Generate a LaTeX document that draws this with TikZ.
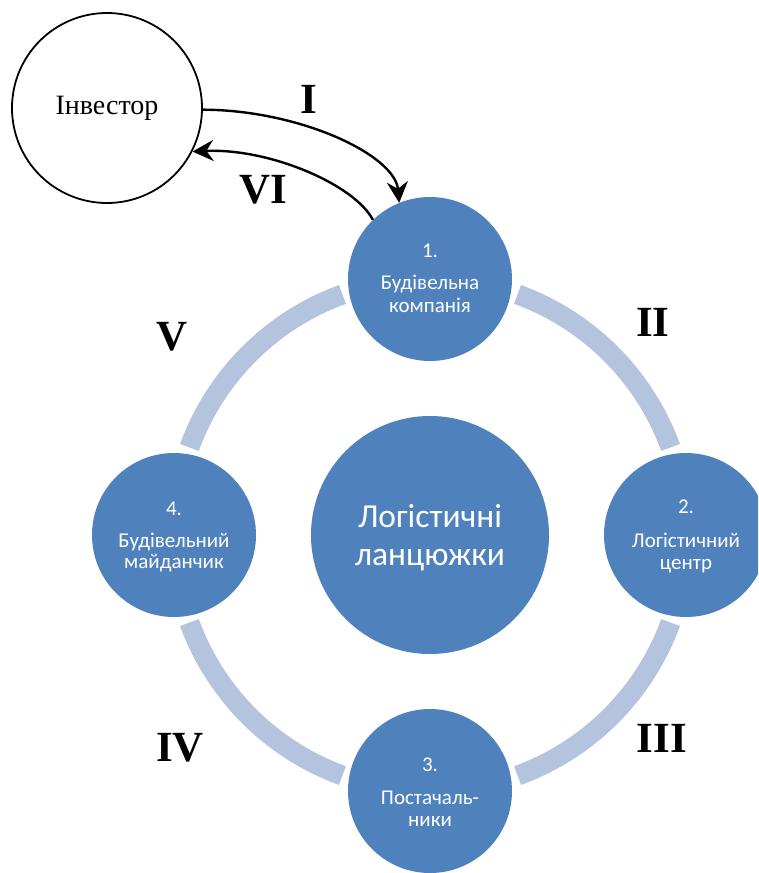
\documentclass[tikz,border=0pt]{standalone}
\usepackage{fontspec}
\setmainfont{Liberation Serif}
\newfontfamily\carlito{Carlito}
\usetikzlibrary{arrows.meta}

\definecolor{nodeblue}{RGB}{79,129,189}
\definecolor{ringblue}{RGB}{180,195,222}

\begin{document}
\begin{tikzpicture}[x=1pt,y=-1pt,
  stage/.style={circle, fill=nodeblue, minimum size=164pt, inner sep=0pt},
  hub/.style={circle, fill=nodeblue, minimum size=238pt, inner sep=0pt},
  ntext/.style={text=white, font=\carlito\fontsize{21}{24}\selectfont, anchor=base, inner sep=0pt},
  htext/.style={text=white, font=\carlito\fontsize{33.5}{38}\selectfont, anchor=base, inner sep=0pt},
  roman/.style={font=\fontsize{43}{48}\selectfont\bfseries, inner sep=0pt},
  ringarc/.style={ringblue, line width=20pt},
  flow/.style={line width=2.4pt, -{Stealth[length=21pt,width=21pt,inset=7pt]}}
]
\useasboundingbox (0,0) rectangle (758,873);
\clip (0,0) rectangle (758,873);

% cycle ring between the four stages
\coordinate (c) at (430,535);
\foreach \a in {0,90,180,270}{
  \draw[ringarc] ([shift={(\a+20:256)}]c) arc[start angle=\a+20, end angle=\a+70, radius=256];
}

% hub
\node[hub] (hub) at (c) {};
\node[htext] at ([yshift=8pt]hub.center) {Логістичні};
\node[htext] at ([yshift=-30pt]hub.center) {ланцюжки};

% stages
\node[stage] (n1) at (430,279) {};
\node[stage] (n2) at (686,535) {};
\node[stage] (n3) at (430,791) {};
\node[stage] (n4) at (174,535) {};

\node[ntext] at ([yshift=22pt]n1.center) {1.};
\node[ntext] at ([yshift=-10pt]n1.center) {Будівельна};
\node[ntext] at ([yshift=-33pt]n1.center) {компанія};

\node[ntext] at ([yshift=22pt]n2.center) {2.};
\node[ntext] at ([yshift=-12pt]n2.center) {Логістичний};
\node[ntext] at ([yshift=-34pt]n2.center) {центр};

\node[ntext] at ([yshift=20pt]n3.center) {3.};
\node[ntext] at ([yshift=-13pt]n3.center) {Постачаль-};
\node[ntext] at ([yshift=-35pt]n3.center) {ники};

\node[ntext] at ([yshift=20pt]n4.center) {4.};
\node[ntext] at ([yshift=-12pt]n4.center) {Будівельний};
\node[ntext] at ([yshift=-33pt]n4.center) {майданчик};

% investor
\node[circle, draw, line width=1.8pt, minimum size=190pt, inner sep=0pt,
      font=\fontsize{28}{32}\selectfont] (inv) at (107,108) {Інвестор};

% flows between investor and construction company
\draw[flow] (inv.-1) .. controls (300,110) and (395,155) .. (n1.112);
\draw[flow] (n1.134) .. controls (355,185) and (270,148) .. (inv.-27);

% stage labels
\node[roman] (lI)   at (309,99)  {I};
\node[roman] (lVI)  at (263,190) {VI};
\node[roman] (lII)  at (653,322) {II};
\node[roman] (lV)   at (172,337) {V};
\node[roman] (lIII) at (662,738) {III};
\node[roman] (lIV)  at (180,748) {IV};
\end{tikzpicture}
\end{document}
